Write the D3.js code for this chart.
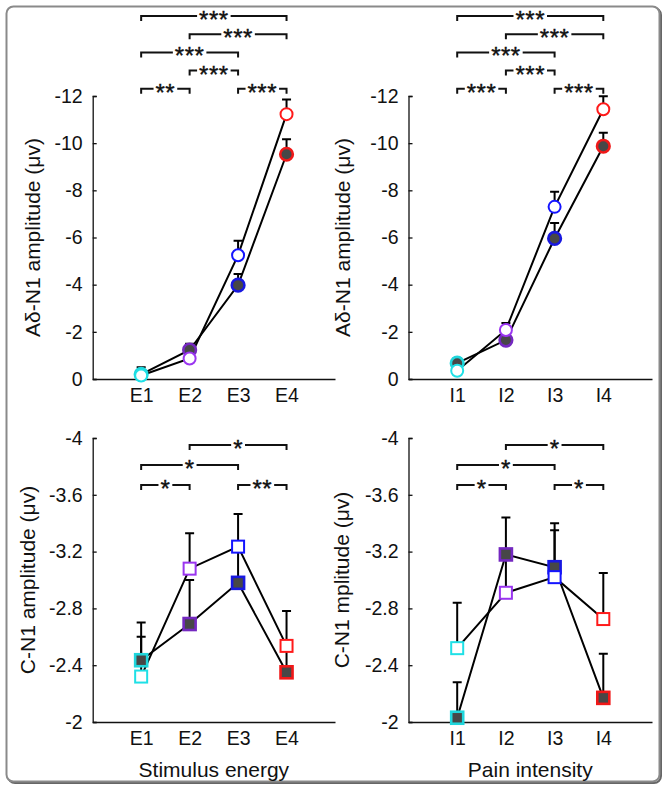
<!DOCTYPE html>
<html>
<head>
<meta charset="utf-8">
<script src="https://cdn.jsdelivr.net/npm/d3@7"></script>
<style>
  html, body { margin: 0; padding: 0; background: #fff; }
  svg { display: block; }
  text { font-family: Arial, "Liberation Sans", Helvetica, sans-serif; fill: #111; }
</style>
</head>
<body>
<svg id="chart" width="666" height="791"></svg>
<script>
// ---------------- DATA ----------------
const energyCats = ["E1", "E2", "E3", "E4"];
const painCats = ["I1", "I2", "I3", "I4"];

const adTicks = [0, -2, -4, -6, -8, -10, -12];
const cTicks = [-2, -2.4, -2.8, -3.2, -3.6, -4];

// A-delta N1, stimulus energy
const adEnergyOpen = [-0.15, -0.87, -5.25, -11.23];
const adEnergyOpenSE = [0.2, 0.35, 0.61, 0.62];
const adEnergyFilled = [-0.2, -1.23, -3.98, -9.53];
const adEnergyFilledSE = [0.3, 0.27, 0.47, 0.64];

// A-delta N1, pain intensity
const adPainOpen = [-0.35, -2.08, -7.3, -11.44];
const adPainOpenSE = [0.4, 0.29, 0.64, 0.55];
const adPainFilled = [-0.67, -1.65, -5.96, -9.87];
const adPainFilledSE = [0.21, 0.4, 0.66, 0.57];

// C N1, stimulus energy
const cEnergyOpen = [-2.32, -3.08, -3.235, -2.536];
const cEnergyOpenSE = [0.38, 0.25, 0.23, 0.245];
const cEnergyFilled = [-2.435, -2.69, -2.98, -2.35];
const cEnergyFilledSE = [0.165, 0.31, 0.25, 0.18];

// C N1, pain intensity
const cPainOpen = [-2.52, -2.91, -3.02, -2.725];
const cPainOpenSE = [0.32, 0.25, 0.33, 0.325];
const cPainFilled = [-2.03, -3.18, -3.09, -2.17];
const cPainFilledSE = [0.25, 0.26, 0.31, 0.31];

// significance brackets: [from index, to index, label, row]
const adEnergySig = [[0, 3, "***", 0], [1, 3, "***", 1], [0, 2, "***", 2], [1, 2, "***", 3], [0, 1, "**", 4], [2, 3, "***", 4]];
const adPainSig = [[0, 3, "***", 0], [1, 3, "***", 1], [0, 2, "***", 2], [1, 2, "***", 3], [0, 1, "***", 4], [2, 3, "***", 4]];
const cEnergySig = [[1, 3, "*", 0], [0, 2, "*", 1], [0, 1, "*", 2], [2, 3, "**", 2]];
const cPainSig = [[1, 3, "*", 0], [0, 2, "*", 1], [0, 1, "*", 2], [2, 3, "*", 2]];

const levelOpenColors = ["#1fe0e6", "#9a35f0", "#1414ff", "#ff1a1a"];
const levelFilledColors = ["#1fd6dc", "#7428c0", "#1818e0", "#f01818"];

// ---------------- DRAW ----------------
const svg = d3.select("#chart");
const FONT = "Arial, 'Liberation Sans', sans-serif";

// frame with slight shadow
svg.append("rect").attr("x", 8).attr("y", 8).attr("width", 653).attr("height", 775)
  .attr("rx", 7).attr("fill", "none").attr("stroke", "#666").attr("stroke-width", 2);
svg.append("rect").attr("x", 6.5).attr("y", 6.5).attr("width", 653).attr("height", 775)
  .attr("rx", 7).attr("fill", "#fff").attr("stroke", "#8a8a8a").attr("stroke-width", 2);

const panels = [
  { x0: 92.7, x1: 335, yTop: 96, yBot: 379, dom: [0, -12], ticks: adTicks, cats: energyCats,
    open: adEnergyOpen, openSE: adEnergyOpenSE, filled: adEnergyFilled, filledSE: adEnergyFilledSE,
    sig: adEnergySig, sigY0: 16, sigStep: 18.2, shape: "circle",
    ylabel: "A\u03B4-N1 amplitude (\u03BCv)", ylabelX: 33, xlabel: null },
  { x0: 408.5, x1: 652, yTop: 96, yBot: 379, dom: [0, -12], ticks: adTicks, cats: painCats,
    open: adPainOpen, openSE: adPainOpenSE, filled: adPainFilled, filledSE: adPainFilledSE,
    sig: adPainSig, sigY0: 16, sigStep: 18.2, shape: "circle",
    ylabel: "A\u03B4-N1 amplitude (\u03BCv)", ylabelX: 343, xlabel: null },
  { x0: 92.7, x1: 335, yTop: 438, yBot: 722, dom: [-2, -4], ticks: cTicks, cats: energyCats,
    open: cEnergyOpen, openSE: cEnergyOpenSE, filled: cEnergyFilled, filledSE: cEnergyFilledSE,
    sig: cEnergySig, sigY0: 445, sigStep: 20, shape: "square",
    ylabel: "C-N1 amplitude (\u03BCv)", ylabelX: 28, xlabel: "Stimulus energy" },
  { x0: 408.5, x1: 652, yTop: 438, yBot: 722, dom: [-2, -4], ticks: cTicks, cats: painCats,
    open: cPainOpen, openSE: cPainOpenSE, filled: cPainFilled, filledSE: cPainFilledSE,
    sig: cPainSig, sigY0: 445, sigStep: 20, shape: "square",
    ylabel: "C-N1 mplitude (\u03BCv)", ylabelX: 342, xlabel: "Pain intensity" }
];

panels.forEach(p => {
  const g = svg.append("g");
  const x = d3.scaleLinear().domain([0, 5]).range([p.x0, p.x1]);
  const y = d3.scaleLinear().domain(p.dom).range([p.yBot, p.yTop]);
  const xi = i => x(i + 1);

  // y axis
  const yAxis = d3.axisLeft(y).tickValues(p.ticks).tickFormat(d => String(d)).tickSize(-4).tickPadding(10);
  const ya = g.append("g").attr("transform", `translate(${p.x0},0)`).call(yAxis);
  ya.select(".domain").attr("stroke", "#111").attr("stroke-width", 1.3);
  ya.selectAll(".tick line").attr("stroke", "#111").attr("stroke-width", 1.3);
  ya.selectAll(".tick text").attr("font-size", 19.5).attr("fill", "#111").attr("font-family", FONT);

  // x axis
  const xAxis = d3.axisBottom(x).tickValues([1, 2, 3, 4]).tickFormat(d => p.cats[d - 1]).tickSize(0).tickPadding(9);
  const xa = g.append("g").attr("transform", `translate(0,${p.yBot})`).call(xAxis);
  xa.select(".domain").attr("stroke", "#111").attr("stroke-width", 1.3);
  xa.selectAll(".tick text").attr("font-size", 19.5).attr("fill", "#111").attr("font-family", FONT);

  // y label
  const cy = (p.yTop + p.yBot) / 2;
  g.append("text").attr("transform", `translate(${p.ylabelX},${cy}) rotate(-90)`)
    .attr("text-anchor", "middle").attr("dy", "0.35em").attr("font-size", 21).text(p.ylabel);

  if (p.xlabel) {
    g.append("text").attr("x", (p.x0 + p.x1) / 2).attr("y", 777)
      .attr("text-anchor", "middle").attr("font-size", 21).text(p.xlabel);
  }

  // significance brackets
  p.sig.forEach(([a, b, lab, row]) => {
    const ly = p.sigY0 + row * p.sigStep;
    const xa1 = xi(a), xb1 = xi(b);
    g.append("path").attr("d", `M${xa1},${ly + 5}V${ly}H${xb1}V${ly + 5}`)
      .attr("fill", "none").attr("stroke", "#111").attr("stroke-width", 2);
    const tx = (xa1 + xb1) / 2;
    const bg = g.append("rect").attr("fill", "#fff");
    const t = g.append("text").attr("x", tx).attr("y", ly + 12).attr("text-anchor", "middle")
      .attr("font-size", 24).attr("letter-spacing", 0.5).attr("stroke", "#111").attr("stroke-width", 0.4).text(lab);
    const w = t.node().getComputedTextLength();
    bg.attr("x", tx - w / 2 - 2).attr("y", ly - 2).attr("width", w + 4).attr("height", 4);
  });

  // lines
  const line = d3.line().x((d, i) => xi(i)).y(d => y(d));
  [p.filled, p.open].forEach(vals => {
    g.append("path").attr("d", line(vals)).attr("fill", "none")
      .attr("stroke", "#000").attr("stroke-width", 2);
  });

  // error bars (upward only)
  const drawErr = (vals, se) => {
    vals.forEach((v, i) => {
      const top = y(v - se[i]);
      g.append("path").attr("d", `M${xi(i)},${y(v)}V${top}M${xi(i) - 4.5},${top}H${xi(i) + 4.5}`)
        .attr("fill", "none").attr("stroke", "#000").attr("stroke-width", 2);
    });
  };
  drawErr(p.filled, p.filledSE);
  drawErr(p.open, p.openSE);

  // markers
  const drawMarkers = (vals, filled) => {
    vals.forEach((v, i) => {
      const cx = xi(i), cyv = y(v);
      const col = filled ? levelFilledColors[i] : levelOpenColors[i];
      if (p.shape === "circle") {
        g.append("circle").attr("cx", cx).attr("cy", cyv).attr("r", filled ? 6.3 : 6)
          .attr("fill", filled ? "#474747" : "#fff").attr("stroke", col).attr("stroke-width", filled ? 2.6 : 2);
      } else {
        const s = 12;
        g.append("rect").attr("x", cx - s / 2).attr("y", cyv - s / 2).attr("width", s).attr("height", s)
          .attr("fill", filled ? "#474747" : "#fff").attr("stroke", col).attr("stroke-width", filled ? 2.6 : 2);
      }
    });
  };
  drawMarkers(p.filled, true);
  drawMarkers(p.open, false);
});
</script>
</body>
</html>
